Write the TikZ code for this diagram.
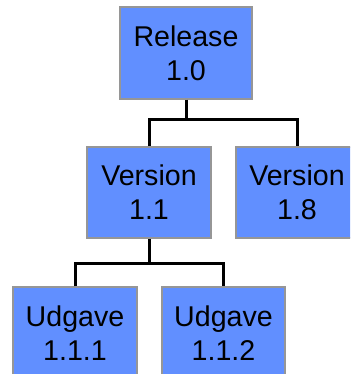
\documentclass[tikz,border=0pt]{standalone}
\usepackage{fontspec}
\setmainfont{Liberation Sans}
\definecolor{boxblue}{RGB}{97,143,255}
\definecolor{boxedge}{RGB}{150,150,150}
\begin{document}
\begin{tikzpicture}[x=1pt,y=-1pt,
  verbox/.style={draw=boxedge, line width=1.5pt, fill=boxblue, rectangle, inner sep=0pt,
    align=center, font=\fontsize{28.6}{34}\selectfont, text=black},
  link/.style={draw=black, line width=3pt}]
\useasboundingbox (0,0) rectangle (350,374);
\clip (0,0) rectangle (350,374);
\node[verbox, minimum width=132pt, minimum height=92pt] (rel) at (186,53) {Release\\1.0};
\node[verbox, minimum width=124pt, minimum height=91pt] (v11) at (149,192.5) {Version\\1.1};
\node[verbox, minimum width=122pt, minimum height=91pt] (v18) at (297,192.5) {Version\\1.8};
\node[verbox, minimum width=124pt, minimum height=92pt] (u111) at (75,333) {Udgave\\1.1.1};
\node[verbox, minimum width=123pt, minimum height=92pt] (u112) at (223.5,333) {Udgave\\1.1.2};
\coordinate (j1) at (186,120);
\coordinate (j2) at (149,263);
\draw[link] (rel.south) -- (j1);
\draw[link] (v11.north) |- (j1) -| (v18.north);
\draw[link] (v11.south) -- (j2);
\draw[link] (u111.north) |- (j2) -| (u112.north);
\end{tikzpicture}
\end{document}
